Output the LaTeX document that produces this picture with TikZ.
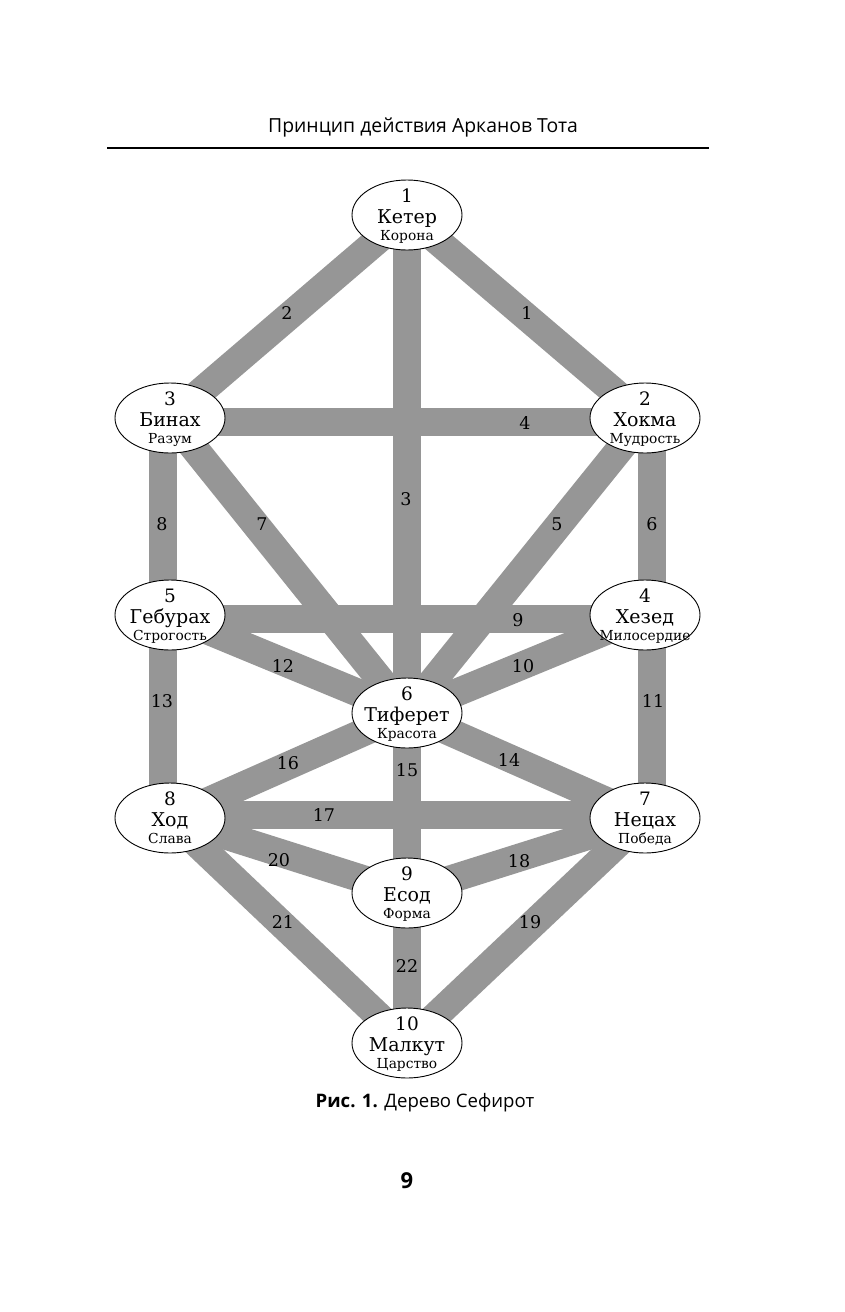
\documentclass[tikz,border=0pt]{standalone}
\usepackage{fontspec}
\setmainfont{DejaVu Serif}
\newfontfamily\headfont{Open Sans}
\usetikzlibrary{shapes.geometric,backgrounds}
\definecolor{BandGray}{RGB}{150,150,150}
\tikzset{
  sefira/.style={draw=black,fill=white,ellipse,minimum width=110pt,minimum height=70pt,inner sep=0pt,line width=0.9pt},
  band/.style={BandGray,line width=28pt},
  pnum/.style={font=\fontsize{17.5}{18}\selectfont,inner sep=0pt},
}
% three lines set on fixed baselines, so every ellipse keeps its size
\newcommand{\sefline}[3]{\makebox[0pt]{\raisebox{#1}[0pt][0pt]{\makebox[0pt]{\fontsize{#2}{#2}\selectfont #3}}}}
\newcommand{\sefname}[3]{\sefline{12.5pt}{18.5}{#1}\sefline{-8pt}{19}{#2}\sefline{-25pt}{13.8}{#3}}
\begin{document}
\begin{tikzpicture}[x=1pt,y=-1pt]
  \useasboundingbox (0,0) rectangle (845,1312);
  % page head
  \node[font=\headfont\fontsize{19.4}{20}\selectfont] (head) at (423,127) {Принцип действия Арканов Тота};
  \draw[line width=1.3pt] (107,148) -- (709,148);
  % sefirot
  \node[sefira] (s1) at (407,215) {\sefname{1}{Кетер}{Корона}};
  \node[sefira] (s2) at (645,418) {\sefname{2}{Хокма}{Мудрость}};
  \node[sefira] (s3) at (170,418) {\sefname{3}{Бинах}{Разум}};
  \node[sefira] (s4) at (645,615) {\sefname{4}{Хезед}{Милосердие}};
  \node[sefira] (s5) at (170,615) {\sefname{5}{Гебурах}{Строгость}};
  \node[sefira] (s6) at (407,713) {\sefname{6}{Тиферет}{Красота}};
  \node[sefira] (s7) at (645,818) {\sefname{7}{Нецах}{Победа}};
  \node[sefira] (s8) at (170,818) {\sefname{8}{Ход}{Слава}};
  \node[sefira] (s9) at (407,893) {\sefname{9}{Есод}{Форма}};
  \node[sefira] (s10) at (407,1043) {\sefname{10}{Малкут}{Царство}};
  % paths
  \begin{scope}[on background layer]
    \draw[band] (s1.center) -- (s2.center);
    \draw[band] (s1.center) -- (s3.center);
    \draw[band] (s1.center) -- (s6.center);
    \draw[band] ([yshift=-4pt]s3.center) -- ([yshift=-4pt]s2.center);
    \draw[band] (s2.center) -- (s6.center);
    \draw[band] ([xshift=7pt]s2.center) -- ([xshift=7pt]s4.center);
    \draw[band] (s3.center) -- (s6.center);
    \draw[band] ([xshift=-7pt]s3.center) -- ([xshift=-7pt]s5.center);
    \draw[band] ([yshift=-4pt]s5.center) -- ([yshift=-4pt]s4.center);
    \draw[band] (s4.center) -- (s6.center);
    \draw[band] ([xshift=7pt]s4.center) -- ([xshift=7pt]s7.center);
    \draw[band] (s5.center) -- (s6.center);
    \draw[band] ([xshift=-7pt]s5.center) -- ([xshift=-7pt]s8.center);
    \draw[band] (s6.center) -- (s7.center);
    \draw[band] (s6.center) -- (s9.center);
    \draw[band] (s6.center) -- (s8.center);
    \draw[band] ([yshift=3pt]s8.center) -- ([yshift=3pt]s7.center);
    \draw[band] (s7.center) -- (s9.center);
    \draw[band] (s7.center) -- (s10.center);
    \draw[band] (s8.center) -- (s9.center);
    \draw[band] (s8.center) -- (s10.center);
    \draw[band] (s9.center) -- (s10.center);
  \end{scope}
  % path numbers
  \node[pnum] (p1) at (527,313) {1};
  \node[pnum] (p2) at (287,313) {2};
  \node[pnum] (p3) at (406,499) {3};
  \node[pnum] (p4) at (525,423) {4};
  \node[pnum] (p5) at (557,524) {5};
  \node[pnum] (p6) at (652,524) {6};
  \node[pnum] (p7) at (262,524) {7};
  \node[pnum] (p8) at (162,524) {8};
  \node[pnum] (p9) at (518,620) {9};
  \node[pnum] (p10) at (523,666) {10};
  \node[pnum] (p11) at (653,701) {11};
  \node[pnum] (p12) at (283,666) {12};
  \node[pnum] (p13) at (162,701) {13};
  \node[pnum] (p14) at (509,760) {14};
  \node[pnum] (p15) at (407,770) {15};
  \node[pnum] (p16) at (288,763) {16};
  \node[pnum] (p17) at (324,815) {17};
  \node[pnum] (p18) at (519,861) {18};
  \node[pnum] (p19) at (530,922) {19};
  \node[pnum] (p20) at (279,860) {20};
  \node[pnum] (p21) at (283,922) {21};
  \node[pnum] (p22) at (407,966) {22};
  % caption and folio
  \node[font=\headfont\fontsize{18.6}{20}\selectfont] (cap) at (425,1103) {\textbf{Рис. 1.} Дерево Сефирот};
  \node[font=\headfont\bfseries\fontsize{22}{22}\selectfont] (folio) at (407,1181) {9};
\end{tikzpicture}
\end{document}
